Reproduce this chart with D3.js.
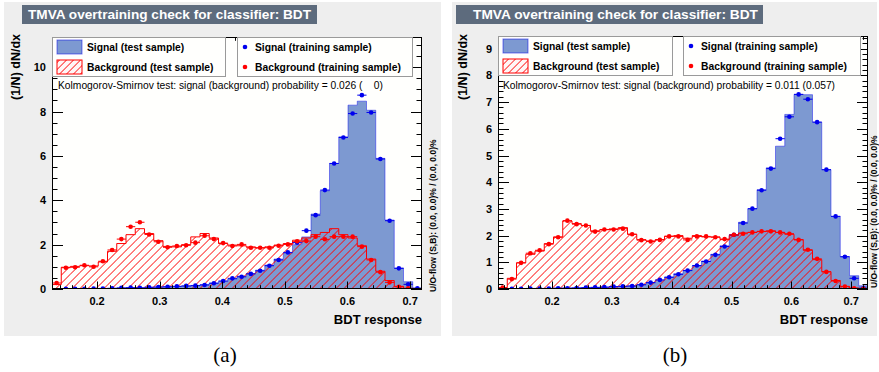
<!DOCTYPE html>
<html>
<head>
<meta charset="utf-8">
<script src="https://cdn.jsdelivr.net/npm/d3@7"></script>
<style>
  body { margin: 0; background: #ffffff; }
  svg text { font-family: "Liberation Sans", Arial, Helvetica, sans-serif; }
</style>
</head>
<body>
<svg id="fig" width="879" height="372"></svg>
<script>
// ---- BDT response histograms, 40 bins each ----
const nBins = 40;
const responseRangeA = [0.128, 0.719];
const responseRangeB = [0.1097, 0.728];

// Panel (a)
const sigTestA = [0.00, 0.01, 0.01, 0.02, 0.02, 0.03, 0.03, 0.04, 0.05, 0.06,
                  0.07, 0.08, 0.10, 0.11, 0.13, 0.16, 0.20, 0.27, 0.34, 0.45,
                  0.58, 0.70, 0.85, 1.08, 1.35, 1.62, 2.00, 2.35, 3.38, 4.43,
                  5.66, 6.86, 8.29, 8.47, 8.06, 5.89, 3.11, 0.95, 0.33, 0.05];
const bkgTestA = [0.20, 0.98, 1.02, 1.05, 1.04, 1.22, 1.70, 2.05, 2.45, 2.72,
                  2.50, 2.18, 1.92, 1.90, 2.00, 2.35, 2.50, 2.30, 2.05, 1.98,
                  1.95, 1.90, 1.85, 1.90, 1.98, 2.05, 2.20, 2.30, 2.45, 2.55,
                  2.72, 2.45, 2.30, 1.95, 1.35, 0.80, 0.38, 0.12, 0.03, 0.00];
const sigTrainA = [0.00, 0.01, 0.01, 0.01, 0.02, 0.02, 0.03, 0.05, 0.06, 0.05,
                   0.08, 0.09, 0.10, 0.12, 0.14, 0.15, 0.18, 0.26, 0.36, 0.48,
                   0.55, 0.68, 0.82, 1.05, 1.31, 1.65, 2.09, 2.63, 3.33, 4.46,
                   5.66, 6.83, 7.91, 8.74, 7.96, 5.86, 3.08, 0.93, 0.21, 0.03];
const bkgTrainA = [0.27, 0.96, 0.98, 1.07, 1.00, 1.25, 1.76, 2.25, 2.81, 3.01,
                   2.46, 2.13, 1.88, 1.94, 1.97, 2.09, 2.40, 2.25, 2.07, 1.94,
                   2.01, 1.86, 1.86, 1.86, 1.95, 2.01, 2.15, 2.16, 2.36, 2.24,
                   2.36, 2.36, 2.36, 1.91, 1.31, 0.76, 0.30, 0.10, 0.03, 0.00];

// Panel (b)
const sigTestB = [0.00, 0.01, 0.01, 0.02, 0.02, 0.03, 0.03, 0.04, 0.04, 0.05,
                  0.06, 0.07, 0.08, 0.10, 0.12, 0.16, 0.23, 0.33, 0.45, 0.57,
                  0.70, 0.86, 1.05, 1.30, 1.62, 2.03, 2.50, 3.00, 3.72, 4.54,
                  5.35, 6.54, 7.29, 7.28, 6.25, 4.47, 2.72, 1.21, 0.50, 0.12];
const bkgTestB = [0.05, 0.40, 0.98, 1.30, 1.42, 1.70, 1.95, 2.55, 2.45, 2.38,
                  2.18, 2.22, 2.25, 2.30, 2.05, 1.85, 1.80, 1.85, 1.98, 2.00,
                  1.90, 2.00, 1.95, 1.95, 1.85, 2.00, 2.10, 2.12, 2.15, 2.18,
                  2.12, 2.05, 1.85, 1.45, 1.10, 0.65, 0.32, 0.10, 0.03, 0.01];
const sigTrainB = [0.00, 0.01, 0.01, 0.02, 0.02, 0.02, 0.03, 0.03, 0.04, 0.05,
                   0.06, 0.07, 0.09, 0.10, 0.11, 0.16, 0.24, 0.34, 0.44, 0.55,
                   0.69, 0.88, 1.03, 1.28, 1.59, 2.03, 2.47, 3.01, 3.70, 4.51,
                   5.63, 6.45, 7.29, 7.11, 6.25, 4.47, 2.72, 1.21, 0.40, 0.03];
const bkgTrainB = [0.05, 0.37, 0.98, 1.34, 1.45, 1.68, 1.94, 2.56, 2.43, 2.38,
                   2.15, 2.23, 2.23, 2.26, 2.05, 1.83, 1.78, 1.84, 1.97, 1.97,
                   1.84, 1.97, 1.97, 1.94, 1.87, 2.03, 2.07, 2.12, 2.16, 2.16,
                   2.12, 2.07, 1.84, 1.47, 1.13, 0.64, 0.30, 0.09, 0.03, 0.01];

// ---- tick labels and texts ----
const xTickLabels = [0.2, 0.3, 0.4, 0.5, 0.6, 0.7];
const yTickLabelsA = [0, 2, 4, 6, 8, 10];
const yTickLabelsB = [0, 1, 2, 3, 4, 5, 6, 7, 8, 9];
const titleText = "TMVA overtraining check for classifier: BDT";
const legendTest = ["Signal (test sample)", "Background (test sample)"];
const legendTrain = ["Signal (training sample)", "Background (training sample)"];
const ksTextA = "Kolmogorov-Smirnov test: signal (background) probability = 0.026 (    0)";
const ksTextB = "Kolmogorov-Smirnov test: signal (background) probability = 0.011 (0.057)";
const uoText = "U/O-flow (S,B): (0.0, 0.0)% / (0.0, 0.0)%";

// ---- style ----
const C = {
  canvas: "#eeeeee",
  frame: "#fffffd",
  titleBox: "#5d6b7d",
  sigFill: "#7d99d1",
  sigLine: "#0000ee",
  bkgLine: "#ff0000"
};
const HATCH_STEP = 8;
const HATCH_WIDTH = 1.0;   // horizontal thickness of each hatch stroke, px

const svg = d3.select("#fig");
const defs = svg.append("defs");

// "/" hatch strokes inside an axis-aligned rectangle (screen px), each
// stroke built as a thin filled band between the lines x + y = c and
// x + y = c + HATCH_WIDTH. The c values sit on a common grid so that
// neighbouring rectangles join into continuous strokes.
function hatchBands(r, step) {
  const d = d3.path();
  const cMin = Math.ceil((r.x0 + r.yTop) / step) * step;
  const band = (c) => {
    const xa = Math.max(r.x0, c - r.yBot);
    const xb = Math.min(r.x1, c - r.yTop);
    return xb > xa ? [[xa, c - xa], [xb, c - xb]] : null;
  };
  for (let c = cMin - step; c <= r.x1 + r.yBot; c += step) {
    const lo = band(c), hi = band(c + HATCH_WIDTH);
    if (!lo && !hi) continue;
    const pts = [];
    const pushLine = (cc, rev) => {
      const seg = band(cc);
      if (seg) (rev ? seg.slice().reverse() : seg).forEach(p => pts.push(p));
    };
    pushLine(c, false);
    // rectangle corners falling between the two edge lines
    if (r.x1 + r.yTop > c && r.x1 + r.yTop < c + HATCH_WIDTH) pts.push([r.x1, r.yTop]);
    if (r.x1 + r.yBot > c && r.x1 + r.yBot < c + HATCH_WIDTH) pts.push([r.x1, r.yBot]);
    pushLine(c + HATCH_WIDTH, true);
    if (r.x0 + r.yTop > c && r.x0 + r.yTop < c + HATCH_WIDTH) pts.push([r.x0, r.yTop]);
    if (r.x0 + r.yBot > c && r.x0 + r.yBot < c + HATCH_WIDTH) pts.push([r.x0, r.yBot]);
    if (pts.length < 3) continue;
    // order the polygon around its centroid
    const cx = d3.mean(pts, p => p[0]), cy = d3.mean(pts, p => p[1]);
    pts.sort((a, b) => Math.atan2(a[1] - cy, a[0] - cx) - Math.atan2(b[1] - cy, b[0] - cx));
    d.moveTo(pts[0][0], pts[0][1]);
    pts.slice(1).forEach(p => d.lineTo(p[0], p[1]));
    d.closePath();
  }
  return d.toString();
}

function drawHatch(parent, rects, step) {
  parent.append("g").selectAll("path").data(rects).join("path")
    .attr("d", r => hatchBands(r, step))
    .attr("fill", C.bkgLine)
    .attr("stroke", "none");
}

function drawPanel(p, idx) {
  const g = svg.append("g");

  // canvas background
  g.append("rect")
    .attr("x", p.canvas[0]).attr("y", p.canvas[1])
    .attr("width", p.canvas[2] - p.canvas[0])
    .attr("height", p.canvas[3] - p.canvas[1])
    .attr("fill", C.canvas);

  // title box
  g.append("rect")
    .attr("x", p.titleBox[0]).attr("y", 5)
    .attr("width", p.titleBox[1] - p.titleBox[0]).attr("height", 19)
    .attr("fill", C.titleBox);
  g.append("text")
    .attr("x", p.titleText[0]).attr("y", 19)
    .attr("textLength", p.titleText[1] - p.titleText[0])
    .attr("lengthAdjust", "spacingAndGlyphs")
    .attr("fill", "#ffffff").attr("font-weight", "bold").attr("font-size", 13.5)
    .text(titleText);

  const f = p.frame;
  const x = d3.scaleLinear().domain(p.range).range([f.l, f.r]);
  const ymax = d3.max([p.sigTest, p.bkgTest, p.sigTrain, p.bkgTrain].flat()) * 1.3;
  const y = d3.scaleLinear().domain([0, ymax]).range([f.b, f.t]);

  const w = (p.range[1] - p.range[0]) / nBins;
  const edges = d3.range(nBins + 1).map(i => p.range[0] + i * w);

  // frame fill
  g.append("rect")
    .attr("x", f.l).attr("y", f.t).attr("width", f.r - f.l).attr("height", f.b - f.t)
    .attr("fill", C.frame);

  const clipId = "clip" + idx;
  defs.append("clipPath").attr("id", clipId)
    .append("rect").attr("x", f.l).attr("y", f.t)
    .attr("width", f.r - f.l).attr("height", f.b - f.t);
  const plot = g.append("g").attr("clip-path", `url(#${clipId})`);

  const stepPts = vals => vals.map((v, i) => [edges[i], v]).concat([[edges[nBins], vals[nBins - 1]]]);
  const area = d3.area().curve(d3.curveStepAfter)
    .x(d => x(d[0])).y0(y(0)).y1(d => y(d[1]));
  const line = d3.line().curve(d3.curveStepAfter)
    .x(d => x(d[0])).y(d => y(d[1]));
  const outline = vals => {
    const pts = stepPts(vals);
    return line([[edges[0], 0]].concat(pts).concat([[edges[nBins], 0]]));
  };

  // signal (test sample)
  plot.append("path").attr("d", area(stepPts(p.sigTest))).attr("fill", C.sigFill);
  plot.append("path").attr("d", outline(p.sigTest))
    .attr("fill", "none").attr("stroke", C.sigLine).attr("stroke-width", 0.8).attr("stroke-opacity", 0.55);

  // background (test sample): hatched bins
  const bkgRects = p.bkgTest.map((v, i) => ({
    x0: x(edges[i]), x1: x(edges[i + 1]), yTop: y(v), yBot: y(0)
  })).filter(r => r.yBot - r.yTop > 0.3);
  drawHatch(plot, bkgRects, HATCH_STEP);
  plot.append("path").attr("d", outline(p.bkgTest))
    .attr("fill", "none").attr("stroke", C.bkgLine).attr("stroke-width", 1);

  // training samples as points with bin-width bars
  const drawPoints = (vals, color) => {
    const pts = vals.map((v, i) => ({ i, v })).filter(d => d.v > 0);
    plot.append("g").selectAll("line").data(pts).join("line")
      .attr("x1", d => x(edges[d.i])).attr("x2", d => x(edges[d.i + 1]))
      .attr("y1", d => y(d.v)).attr("y2", d => y(d.v))
      .attr("stroke", color).attr("stroke-width", 1);
    plot.append("g").selectAll("circle").data(pts).join("circle")
      .attr("cx", d => x((edges[d.i] + edges[d.i + 1]) / 2))
      .attr("cy", d => y(d.v)).attr("r", 2.3).attr("fill", color);
  };
  drawPoints(p.sigTrain, C.sigLine);
  drawPoints(p.bkgTrain, C.bkgLine);

  // axes: ticks on all four sides
  const axisG = g.append("g").attr("stroke", "#000").attr("stroke-width", 1);
  const xMinor = d3.range(Math.ceil(p.range[0] / 0.02), Math.floor(p.range[1] / 0.02) + 1).map(k => +(k * 0.02).toFixed(3));
  xMinor.forEach(v => {
    const major = Math.abs(v * 10 - Math.round(v * 10)) < 1e-6;
    const len = major ? 7.5 : 3.8;
    const xx = Math.round(x(v)) + 0.5;
    axisG.append("line").attr("x1", xx).attr("x2", xx).attr("y1", f.b).attr("y2", f.b - len);
    axisG.append("line").attr("x1", xx).attr("x2", xx).attr("y1", f.t).attr("y2", f.t + len);
  });
  const yMinorStep = p.yMinor;
  d3.range(0, Math.floor(ymax / yMinorStep) + 1).map(k => k * yMinorStep).forEach(v => {
    const major = Math.abs(v / p.yMajor - Math.round(v / p.yMajor)) < 1e-6;
    const len = major ? 11 : 5.5;
    const yy = Math.round(y(v)) + 0.5;
    axisG.append("line").attr("x1", f.l).attr("x2", f.l + len).attr("y1", yy).attr("y2", yy);
    axisG.append("line").attr("x1", f.r).attr("x2", f.r - len).attr("y1", yy).attr("y2", yy);
  });

  // frame border
  g.append("rect")
    .attr("x", f.l + 0.5).attr("y", f.t + 0.5).attr("width", f.r - f.l - 1).attr("height", f.b - f.t - 1)
    .attr("fill", "none").attr("stroke", "#000").attr("stroke-width", 1);

  // tick labels
  g.append("g").selectAll("text").data(xTickLabels).join("text")
    .attr("x", d => x(d)).attr("y", f.b + 16)
    .attr("text-anchor", "middle").attr("font-weight", "bold").attr("font-size", 11)
    .text(d => d3.format(".1f")(d));
  g.append("g").selectAll("text").data(p.yLabels).join("text")
    .attr("x", f.l - 6).attr("y", d => y(d) + 4)
    .attr("text-anchor", "end").attr("font-weight", "bold").attr("font-size", 11)
    .text(d => d);

  // axis titles
  g.append("text")
    .attr("x", f.r).attr("y", 324)
    .attr("text-anchor", "end").attr("font-weight", "bold").attr("font-size", 13)
    .text("BDT response");
  g.append("text")
    .attr("transform", `translate(${p.yTitleX},34) rotate(-90)`)
    .attr("text-anchor", "end").attr("font-weight", "bold").attr("font-size", 12.5)
    .text("(1/N) dN/dx");

  // legends
  const lg = g.append("g");
  const lt = f.t, lb = f.t + 39;
  [p.leg1, p.leg2].forEach(l => {
    lg.append("rect").attr("x", l[0] + 0.5).attr("y", lt + 0.5)
      .attr("width", l[1] - l[0]).attr("height", lb - lt)
      .attr("fill", C.frame).attr("stroke", "#9a9a9a").attr("stroke-width", 1);
  });
  const rows = [lt + 10, lt + 30];
  lg.append("rect").attr("x", p.leg1[0] + 5).attr("y", rows[0] - 7)
    .attr("width", 25).attr("height", 14).attr("fill", C.sigFill)
    .attr("stroke", C.sigLine).attr("stroke-opacity", 0.5);
  const hb = { x: p.leg1[0] + 5, y: rows[1] - 7, w: 25, h: 14 };
  lg.append("rect").attr("x", hb.x).attr("y", hb.y).attr("width", hb.w).attr("height", hb.h)
    .attr("fill", "#fff6f6");
  drawHatch(lg, [{ x0: hb.x, x1: hb.x + hb.w, yTop: hb.y, yBot: hb.y + hb.h }], 7);
  lg.append("rect").attr("x", hb.x).attr("y", hb.y).attr("width", hb.w).attr("height", hb.h)
    .attr("fill", "none").attr("stroke", C.bkgLine);
  legendTest.forEach((t, i) => {
    lg.append("text").attr("x", p.leg1[0] + 35).attr("y", rows[i] + 4)
      .attr("font-weight", "bold").attr("font-size", 10.3).text(t);
  });
  [C.sigLine, C.bkgLine].forEach((c, i) => {
    lg.append("circle").attr("cx", p.leg2[0] + 8).attr("cy", rows[i]).attr("r", 2.3).attr("fill", c);
  });
  legendTrain.forEach((t, i) => {
    lg.append("text").attr("x", p.leg2[0] + 18).attr("y", rows[i] + 4)
      .attr("font-weight", "bold").attr("font-size", 10.3).text(t);
  });

  // Kolmogorov-Smirnov result
  g.append("text")
    .attr("x", p.ks[0]).attr("y", 89)
    .attr("textLength", p.ks[1]).attr("lengthAdjust", "spacingAndGlyphs")
    .attr("font-size", 10.2).style("white-space", "pre")
    .text(p.ksText);

  // under/overflow note
  g.append("text")
    .attr("transform", `translate(${p.uo[0]},${p.uo[1]}) rotate(-90)`)
    .attr("font-weight", "bold").attr("font-size", 8.5)
    .text(uoText);

  // caption
  svg.append("text")
    .attr("x", p.caption).attr("y", 362)
    .attr("text-anchor", "middle")
    .style("font-family", "'Liberation Serif', 'Times New Roman', serif")
    .attr("font-size", 21)
    .text(p.captionText);
}

drawPanel({
  canvas: [4, 2, 441, 336],
  titleBox: [22, 317], titleText: [28, 311],
  frame: { l: 52, r: 422, t: 37, b: 289 },
  range: responseRangeA,
  sigTest: sigTestA, bkgTest: bkgTestA, sigTrain: sigTrainA, bkgTrain: bkgTrainA,
  yMajor: 2, yMinor: 0.5, yLabels: yTickLabelsA,
  yTitleX: 20,
  leg1: [52, 225], leg2: [237, 412],
  ks: [58, 325], ksText: ksTextA,
  uo: [436, 292],
  caption: 225, captionText: "(a)"
}, 0);

drawPanel({
  canvas: [452, 2, 877, 336],
  titleBox: [456, 763], titleText: [473, 758],
  frame: { l: 498, r: 868, t: 36, b: 289 },
  range: responseRangeB,
  sigTest: sigTestB, bkgTest: bkgTestB, sigTrain: sigTrainB, bkgTrain: bkgTrainB,
  yMajor: 1, yMinor: 0.2, yLabels: yTickLabelsB,
  yTitleX: 467,
  leg1: [498, 672], leg2: [683, 860],
  ks: [503, 332], ksText: ksTextB,
  uo: [877, 288],
  caption: 675, captionText: "(b)"
}, 1);
</script>
</body>
</html>
